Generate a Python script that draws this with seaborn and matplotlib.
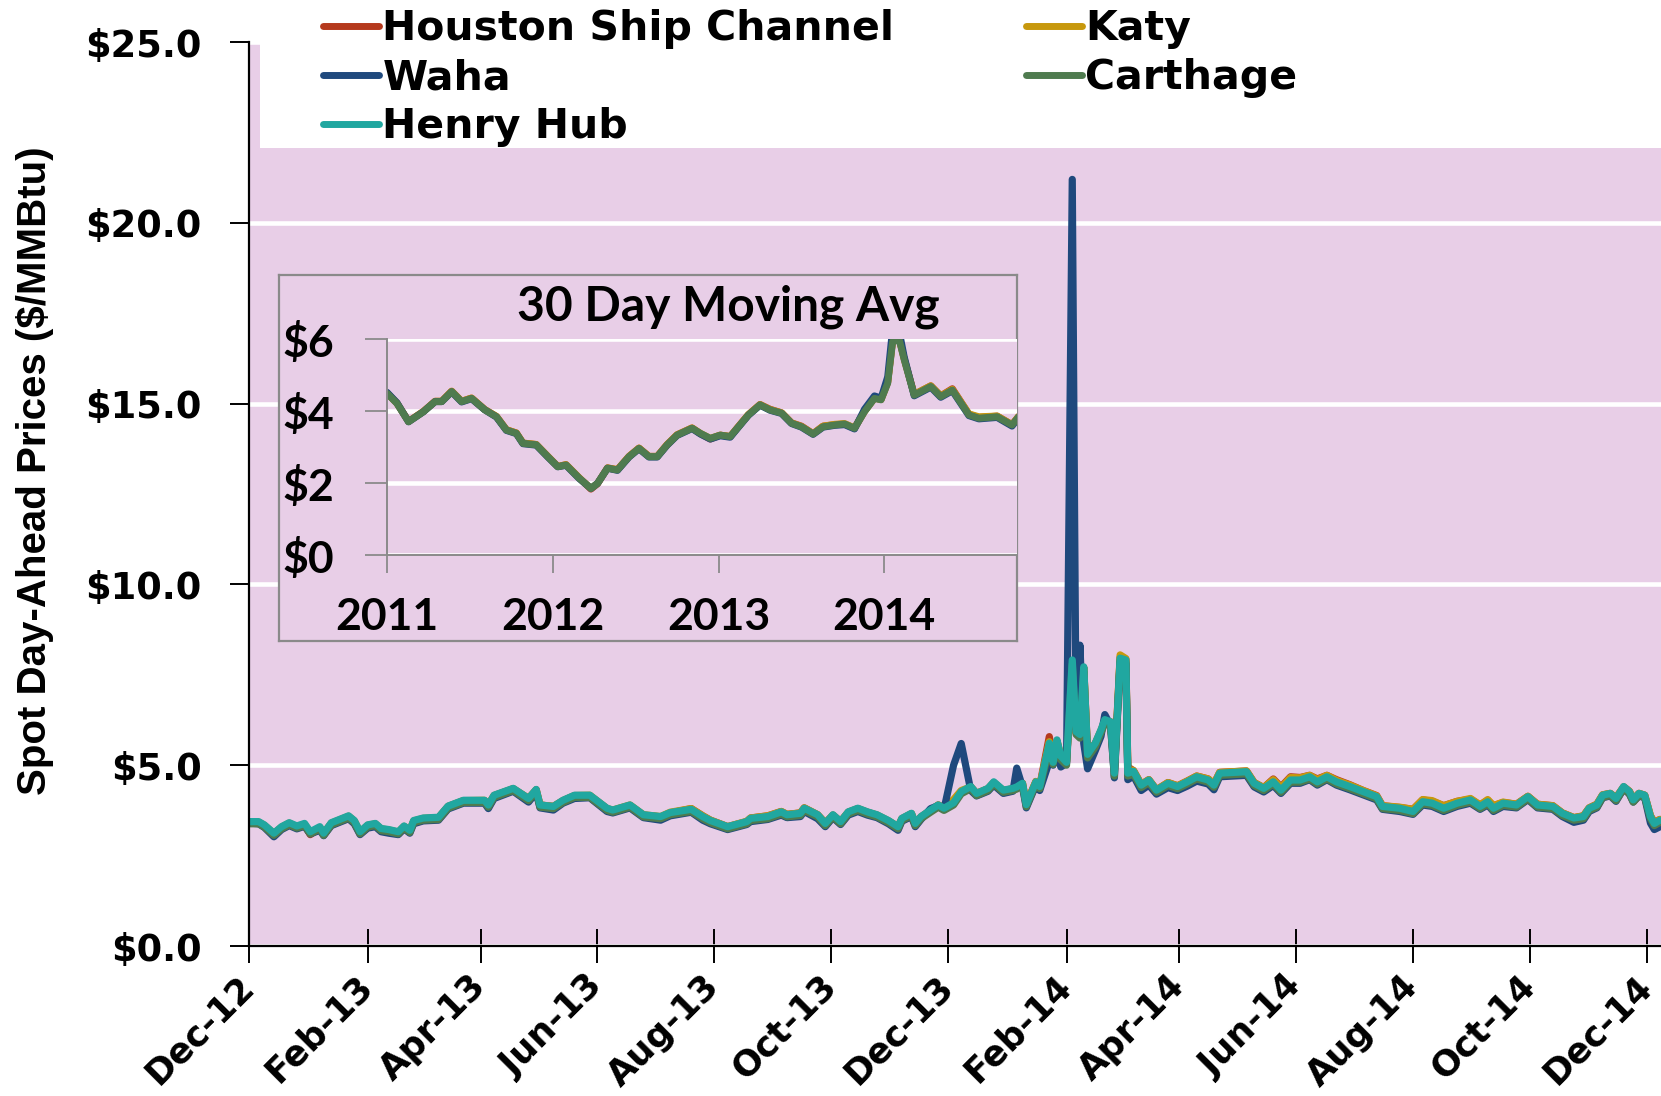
import numpy as np
import pandas as pd
import matplotlib
matplotlib.use("Agg")
import matplotlib.pyplot as plt
from matplotlib.lines import Line2D
from matplotlib.patches import Rectangle
import seaborn as sns

dates = ["2012-12-01","2012-12-06","2012-12-09","2012-12-14","2012-12-18","2012-12-22","2012-12-26","2012-12-30","2013-01-02","2013-01-07",
         "2013-01-09","2013-01-13","2013-01-22","2013-01-25","2013-01-28","2013-02-01","2013-02-05","2013-02-08","2013-02-12","2013-02-17",
         "2013-02-20","2013-02-23","2013-02-25","2013-03-02","2013-03-10","2013-03-15","2013-03-23","2013-04-03","2013-04-05","2013-04-08",
         "2013-04-18","2013-04-26","2013-04-30","2013-05-02","2013-05-09","2013-05-14","2013-05-20","2013-05-28","2013-06-06","2013-06-09",
         "2013-06-18","2013-06-25","2013-07-04","2013-07-09","2013-07-20","2013-07-26","2013-07-30","2013-08-08","2013-08-18","2013-08-20",
         "2013-08-29","2013-09-05","2013-09-08","2013-09-15","2013-09-17","2013-09-24","2013-09-28","2013-10-02","2013-10-06","2013-10-10",
         "2013-10-15","2013-10-20","2013-10-25","2013-10-31","2013-11-05","2013-11-07","2013-11-12","2013-11-14","2013-11-17","2013-11-22",
         "2013-11-26","2013-11-29","2013-12-04","2013-12-08","2013-12-13","2013-12-16","2013-12-22","2013-12-25","2013-12-30","2014-01-04",
         "2014-01-06","2014-01-09","2014-01-11","2014-01-16","2014-01-18","2014-01-23","2014-01-25","2014-01-27","2014-01-29","2014-02-01",
         "2014-02-04","2014-02-06","2014-02-08","2014-02-10","2014-02-12","2014-02-16","2014-02-19","2014-02-21","2014-02-24","2014-02-26",
         "2014-03-01","2014-03-04","2014-03-05","2014-03-08","2014-03-12","2014-03-16","2014-03-20","2014-03-26","2014-03-31","2014-04-05",
         "2014-04-10","2014-04-16","2014-04-19","2014-04-22","2014-04-29","2014-05-06","2014-05-10","2014-05-15","2014-05-20","2014-05-24",
         "2014-05-29","2014-06-03","2014-06-08","2014-06-12","2014-06-17","2014-06-22","2014-06-29","2014-07-06","2014-07-13","2014-07-16",
         "2014-07-25","2014-08-01","2014-08-06","2014-08-11","2014-08-17","2014-08-24","2014-08-31","2014-09-05","2014-09-09","2014-09-12",
         "2014-09-17","2014-09-24","2014-09-30","2014-10-05","2014-10-13","2014-10-18","2014-10-24","2014-10-29","2014-11-01","2014-11-05",
         "2014-11-08","2014-11-12","2014-11-15","2014-11-19","2014-11-22","2014-11-24","2014-11-27","2014-11-30","2014-12-03","2014-12-05",
         "2014-12-08"]

houston = [3.42,3.42,3.33,3.10,3.28,3.39,3.28,3.35,3.08,3.26,
           3.10,3.39,3.58,3.45,3.14,3.33,3.37,3.23,3.20,3.14,
           3.30,3.18,3.45,3.52,3.55,3.86,4.02,4.02,3.89,4.16,
           4.35,4.08,4.32,3.90,3.86,4.02,4.16,4.16,3.80,3.75,
           3.89,3.62,3.57,3.68,3.80,3.60,3.48,3.30,3.44,3.54,
           3.60,3.72,3.64,3.68,3.82,3.63,3.40,3.62,3.44,3.70,
           3.80,3.70,3.62,3.46,3.30,3.52,3.66,3.39,3.57,3.75,
           3.90,3.82,4.00,4.26,4.40,4.22,4.35,4.52,4.30,4.35,
           4.42,4.50,3.92,4.55,4.42,5.79,5.12,5.65,5.25,5.10,
           7.85,5.90,5.85,7.70,5.35,5.60,5.95,6.22,6.20,4.85,
           7.98,7.92,4.95,4.85,4.47,4.60,4.32,4.52,4.43,4.56,
           4.70,4.62,4.48,4.80,4.82,4.84,4.52,4.38,4.62,4.40,
           4.68,4.66,4.72,4.62,4.72,4.60,4.46,4.30,4.16,3.88,
           3.83,3.78,4.04,4.00,3.88,4.00,4.06,3.90,4.03,3.88,
           3.97,3.92,4.14,3.92,3.88,3.68,3.55,3.60,3.82,3.92,
           4.18,4.22,4.10,4.40,4.28,4.06,4.22,4.17,3.60,3.42,
           3.50]

katy = [3.43,3.43,3.34,3.11,3.29,3.40,3.30,3.37,3.12,3.28,
        3.11,3.40,3.59,3.46,3.15,3.34,3.38,3.24,3.21,3.15,
        3.31,3.19,3.46,3.53,3.55,3.86,4.02,4.03,3.90,4.16,
        4.35,4.08,4.32,3.90,3.86,4.02,4.16,4.17,3.80,3.76,
        3.90,3.63,3.58,3.70,3.80,3.60,3.48,3.30,3.45,3.54,
        3.60,3.72,3.64,3.68,3.82,3.63,3.40,3.62,3.44,3.70,
        3.80,3.70,3.62,3.46,3.30,3.52,3.66,3.39,3.57,3.75,
        3.90,3.82,4.05,4.30,4.40,4.22,4.35,4.52,4.30,4.35,
        4.42,4.50,3.92,4.55,4.42,5.65,5.10,5.68,5.25,5.10,
        7.88,5.90,5.85,7.70,5.32,5.60,5.96,6.24,6.20,4.82,
        8.05,7.95,4.90,4.85,4.47,4.60,4.32,4.52,4.43,4.56,
        4.70,4.62,4.48,4.80,4.82,4.84,4.52,4.38,4.60,4.38,
        4.66,4.65,4.72,4.60,4.72,4.58,4.45,4.30,4.15,3.88,
        3.84,3.78,4.05,4.02,3.88,4.00,4.08,3.90,4.05,3.88,
        3.98,3.92,4.14,3.92,3.88,3.68,3.55,3.60,3.82,3.92,
        4.18,4.22,4.10,4.40,4.28,4.06,4.22,4.17,3.60,3.42,
        3.50]

waha = [3.40,3.38,3.28,3.02,3.22,3.33,3.24,3.31,3.10,3.20,
        3.05,3.33,3.52,3.38,3.08,3.26,3.30,3.16,3.12,3.08,
        3.24,3.12,3.38,3.46,3.48,3.79,3.95,3.95,3.80,4.08,
        4.28,3.98,4.24,3.82,3.76,3.95,4.08,4.10,3.72,3.68,
        3.82,3.55,3.48,3.60,3.70,3.48,3.38,3.22,3.36,3.44,
        3.50,3.62,3.55,3.58,3.72,3.52,3.30,3.55,3.36,3.62,
        3.72,3.62,3.55,3.38,3.20,3.45,3.58,3.30,3.50,3.80,
        3.88,3.78,5.00,5.60,4.30,4.15,4.28,4.45,4.22,4.28,
        4.92,4.40,3.82,4.45,4.30,5.10,5.00,5.40,4.95,5.05,
        21.20,6.00,8.32,5.60,4.90,5.40,5.80,6.40,6.10,4.65,
        7.85,7.80,4.60,4.70,4.30,4.45,4.20,4.38,4.30,4.42,
        4.56,4.48,4.32,4.68,4.70,4.72,4.40,4.26,4.44,4.22,
        4.50,4.50,4.60,4.45,4.60,4.45,4.32,4.18,4.04,3.78,
        3.72,3.64,3.90,3.86,3.72,3.86,3.95,3.78,3.90,3.72,
        3.86,3.82,4.05,3.82,3.78,3.58,3.42,3.48,3.72,3.82,
        4.10,4.15,4.00,4.35,4.20,3.98,4.15,4.10,3.40,3.22,
        3.30]

carthage = [3.38,3.38,3.29,3.06,3.24,3.35,3.26,3.33,3.10,3.24,
            3.06,3.35,3.54,3.41,3.10,3.29,3.33,3.19,3.16,3.10,
            3.26,3.14,3.41,3.48,3.50,3.81,3.97,3.97,3.84,4.11,
            4.30,4.02,4.27,3.84,3.80,3.97,4.11,4.11,3.75,3.70,
            3.84,3.57,3.52,3.63,3.72,3.52,3.41,3.24,3.38,3.47,
            3.52,3.65,3.57,3.61,3.75,3.57,3.33,3.57,3.38,3.65,
            3.75,3.65,3.57,3.41,3.24,3.47,3.61,3.33,3.52,3.70,
            3.84,3.75,3.90,4.21,4.35,4.16,4.30,4.48,4.25,4.30,
            4.34,4.44,3.85,4.48,4.35,5.45,5.02,5.60,5.15,5.00,
            7.80,5.85,5.75,7.60,5.20,5.50,5.90,6.15,6.10,4.70,
            7.90,7.85,4.70,4.75,4.38,4.52,4.25,4.44,4.35,4.48,
            4.62,4.53,4.39,4.72,4.74,4.76,4.44,4.30,4.48,4.25,
            4.53,4.53,4.62,4.48,4.62,4.48,4.35,4.21,4.07,3.80,
            3.75,3.66,3.93,3.89,3.75,3.89,3.98,3.80,3.93,3.75,
            3.89,3.84,4.07,3.84,3.80,3.61,3.48,3.52,3.75,3.84,
            4.11,4.16,4.02,4.35,4.21,3.98,4.16,4.11,3.52,3.33,
            3.42]

henry_hub = [3.44,3.44,3.35,3.12,3.30,3.41,3.32,3.39,3.16,3.30,
             3.12,3.41,3.60,3.47,3.16,3.35,3.39,3.25,3.22,3.16,
             3.32,3.20,3.47,3.54,3.56,3.87,4.03,4.03,3.90,4.17,
             4.36,4.08,4.33,3.90,3.86,4.03,4.17,4.17,3.81,3.76,
             3.90,3.63,3.58,3.69,3.78,3.58,3.47,3.30,3.44,3.53,
             3.58,3.71,3.63,3.67,3.81,3.63,3.39,3.63,3.44,3.71,
             3.81,3.71,3.63,3.47,3.30,3.53,3.67,3.39,3.58,3.76,
             3.90,3.81,3.96,4.27,4.41,4.22,4.36,4.54,4.31,4.36,
             4.40,4.50,3.91,4.54,4.41,5.61,5.08,5.70,5.25,5.08,
             7.91,5.93,5.85,7.72,5.30,5.61,5.98,6.26,6.20,4.78,
             7.96,7.91,4.78,4.83,4.45,4.59,4.31,4.50,4.41,4.54,
             4.68,4.59,4.45,4.78,4.80,4.82,4.50,4.36,4.54,4.31,
             4.59,4.59,4.68,4.54,4.68,4.54,4.41,4.27,4.13,3.86,
             3.81,3.72,3.99,3.95,3.81,3.95,4.04,3.86,3.99,3.81,
             3.95,3.90,4.13,3.90,3.86,3.67,3.54,3.58,3.81,3.90,
             4.17,4.22,4.08,4.41,4.27,4.04,4.22,4.17,3.58,3.39,
             3.48]

# inset: 30 day moving average
inset_years = [2011.00,2011.06,2011.13,2011.22,2011.29,2011.33,2011.39,2011.45,2011.51,2011.59,
               2011.66,2011.72,2011.78,2011.82,2011.90,2011.97,2012.03,2012.08,2012.16,2012.23,
               2012.27,2012.33,2012.39,2012.46,2012.52,2012.58,2012.63,2012.69,2012.75,2012.84,
               2012.89,2012.95,2013.01,2013.07,2013.12,2013.18,2013.25,2013.31,2013.38,2013.44,
               2013.50,2013.57,2013.63,2013.70,2013.76,2013.82,2013.88,2013.94,2013.98,2014.02,
               2014.05,2014.09,2014.12,2014.18,2014.28,2014.34,2014.41,2014.51,2014.57,2014.68,
               2014.77,2014.81]
inset_houston = [4.50,4.22,3.71,3.99,4.27,4.27,4.55,4.27,4.36,4.04,
                 3.85,3.48,3.39,3.11,3.07,2.74,2.46,2.51,2.14,1.83,
                 1.98,2.42,2.37,2.74,2.97,2.74,2.74,3.07,3.34,3.53,
                 3.37,3.22,3.33,3.29,3.57,3.90,4.18,4.05,3.95,3.67,
                 3.58,3.37,3.58,3.62,3.64,3.52,3.99,4.36,4.32,4.80,
                 5.98,6.00,5.45,4.46,4.70,4.42,4.62,3.91,3.82,3.86,
                 3.62,3.85]
inset_katy = [4.50,4.22,3.71,3.99,4.27,4.27,4.55,4.27,4.36,4.04,
              3.85,3.48,3.39,3.11,3.07,2.74,2.46,2.51,2.14,1.85,
              1.99,2.42,2.37,2.74,2.97,2.74,2.74,3.07,3.34,3.53,
              3.38,3.24,3.33,3.29,3.57,3.90,4.18,4.04,3.95,3.67,
              3.57,3.37,3.58,3.63,3.65,3.53,3.99,4.36,4.32,4.80,
              5.98,6.00,5.44,4.46,4.70,4.42,4.60,3.92,3.84,3.86,
              3.62,3.85]
inset_waha = [4.52,4.23,3.70,3.98,4.26,4.26,4.53,4.25,4.34,4.03,
              3.83,3.46,3.37,3.09,3.05,2.72,2.45,2.49,2.12,1.85,
              1.99,2.41,2.35,2.72,2.95,2.72,2.72,3.05,3.32,3.51,
              3.36,3.22,3.31,3.27,3.55,3.88,4.16,4.02,3.93,3.65,
              3.55,3.35,3.55,3.60,3.62,3.50,4.05,4.42,4.36,4.95,
              6.30,6.20,5.50,4.42,4.66,4.38,4.56,3.87,3.78,3.82,
              3.58,3.82]
inset_carthage = [4.49,4.21,3.70,3.98,4.26,4.26,4.54,4.26,4.35,4.03,
                  3.84,3.47,3.38,3.10,3.06,2.73,2.45,2.50,2.13,1.85,
                  1.99,2.41,2.36,2.73,2.96,2.73,2.73,3.06,3.33,3.52,
                  3.38,3.24,3.33,3.29,3.56,3.89,4.17,4.03,3.94,3.66,
                  3.56,3.36,3.56,3.61,3.64,3.52,3.98,4.35,4.31,4.77,
                  5.93,5.97,5.42,4.44,4.68,4.40,4.58,3.89,3.80,3.84,
                  3.61,3.84]

hubs = ["Houston Ship Channel", "Katy", "Waha", "Carthage", "Henry Hub"]
colors = {"Houston Ship Channel": "#B5391D", "Katy": "#C7980D", "Waha": "#1F497D",
          "Carthage": "#4F7B4F", "Henry Hub": "#20A7A0"}
PINK = "#E8CEE7"

sns.set_theme(style="white")
plt.rcParams['font.family'] = ['DejaVu Sans']
plt.rcParams['font.weight'] = 'bold'
plt.rcParams['text.color'] = 'black'
plt.rcParams['xtick.labelcolor'] = 'black'
plt.rcParams['ytick.labelcolor'] = 'black'

W, H = 1661, 1096
fig = plt.figure(figsize=(W / 100, H / 100), dpi=100)

# ---- main chart ----
ax = fig.add_axes([249 / W, 1 - 946 / H, (W - 249) / W, (946 - 42) / H])
ax.set_facecolor(PINK)

df = pd.DataFrame({"date": pd.to_datetime(dates).tolist() * 5,
                   "price": houston + katy + waha + carthage + henry_hub,
                   "hub": np.repeat(hubs, len(dates))})
sns.lineplot(data=df, x="date", y="price", hue="hub", hue_order=hubs,
             palette=colors, linewidth=5.2, legend=False, ax=ax)

ax.set_xlim(pd.Timestamp("2012-12-01"), pd.Timestamp("2014-12-08 12:00"))
ax.set_ylim(0, 25)
ax.set_yticks(range(0, 30, 5))
ax.set_yticklabels([f"${v:.1f}" for v in range(0, 30, 5)], fontsize=26.5, fontweight='bold',
                   color='black')
xt = pd.date_range("2012-12-01", "2014-12-01", freq="2MS")
ax.set_xticks(xt)
ax.set_xticklabels([d.strftime("%b-%y") for d in xt], rotation=45, ha='right', va='center',
                   rotation_mode='anchor', fontsize=25.5, fontweight='bold', color='black')
ax.yaxis.grid(True, color="white", linewidth=3.3)
ax.xaxis.grid(False)
ax.set_axisbelow(True)
for s in ["top", "right"]:
    ax.spines[s].set_visible(False)
for s in ["left", "bottom"]:
    ax.spines[s].set_color("black")
    ax.spines[s].set_linewidth(1.6)
ax.tick_params(axis='y', direction='out', length=14, width=1.4, color='black', pad=20, left=True)
ax.tick_params(axis='x', direction='inout', length=24, width=1.4, color='black', pad=13, bottom=True)
ax.set_xlabel("")
ax.set_ylabel("")

# white legend area
ax.add_patch(Rectangle((11 / 1412, (946 - 148) / 904), 1.2, 0.3, transform=ax.transAxes,
                       facecolor='white', edgecolor='none', zorder=5, clip_on=False))
order = ["Houston Ship Channel", "Waha", "Henry Hub", "Katy", "Carthage"]
handles = [Line2D([], [], color=colors[h], lw=5, solid_capstyle='round') for h in order]
fig.legend(handles, order, loc='upper left', bbox_to_anchor=(323 / W, 1 - 9 / H), ncol=2,
           frameon=False, prop={'family': 'DejaVu Sans', 'weight': 'bold', 'size': 29.5},
           handlelength=1.37, handletextpad=0.08, columnspacing=3.2, labelspacing=0.22,
           borderpad=0, borderaxespad=0, labelcolor='black')

fig.text(35 / W, 1 - 471 / H, "Spot Day-Ahead Prices ($/MMBtu)", rotation=90,
         ha='center', va='center', fontsize=29, fontweight='bold', color='black',
         family=['Liberation Sans', 'DejaVu Sans'])

# ---- inset box ----
box = fig.add_axes([279 / W, 1 - 641 / H, (1017 - 279) / W, (641 - 275) / H])
box.set_facecolor(PINK)
box.set_xticks([])
box.set_yticks([])
for s in box.spines.values():
    s.set_color("#8A8A8A")
    s.set_linewidth(1.6)

ins = fig.add_axes([387 / W, 1 - 555 / H, (1017 - 387) / W, (555 - 339) / H])
ins.set_facecolor(PINK)
idf = pd.DataFrame({"year": inset_years * 4,
                    "avg": inset_houston + inset_katy + inset_waha + inset_carthage,
                    "hub": np.repeat(hubs[:4], len(inset_years))})
sns.lineplot(data=idf, x="year", y="avg", hue="hub", hue_order=hubs[:4],
             palette=colors, linewidth=5, legend=False, ax=ins)
ins.set_xlim(2011, 2014.8)
ins.set_ylim(0, 6)
ins_font = {'family': ['Lato', 'DejaVu Sans'], 'weight': 'bold', 'size': 32, 'color': 'black'}
ins.set_yticks([0, 2, 4, 6])
ins.set_yticklabels(["$0", "$2", "$4", "$6"], fontdict=ins_font)
ins.set_xticks([2011, 2012, 2013, 2014])
ins.set_xticklabels(["2011", "2012", "2013", "2014"], fontdict=ins_font)
ins.yaxis.grid(True, color="white", linewidth=3.3)
ins.xaxis.grid(False)
ins.set_axisbelow(True)
for s in ["top", "right"]:
    ins.spines[s].set_visible(False)
for s in ["left", "bottom"]:
    ins.spines[s].set_color("#8A8A8A")
    ins.spines[s].set_linewidth(1.4)
ins.tick_params(axis='y', direction='out', length=16, width=1.3, color='#8A8A8A', pad=22, left=True)
ins.tick_params(axis='x', direction='out', length=13, width=1.3, color='#8A8A8A', pad=17, bottom=True)
ins.set_xlabel("")
ins.set_ylabel("")
fig.text(728 / W, 1 - 307 / H, "30 Day Moving Avg", ha='center', va='center',
         fontdict={**ins_font, 'size': 34.5})

fig.savefig("out.png", dpi=100)
